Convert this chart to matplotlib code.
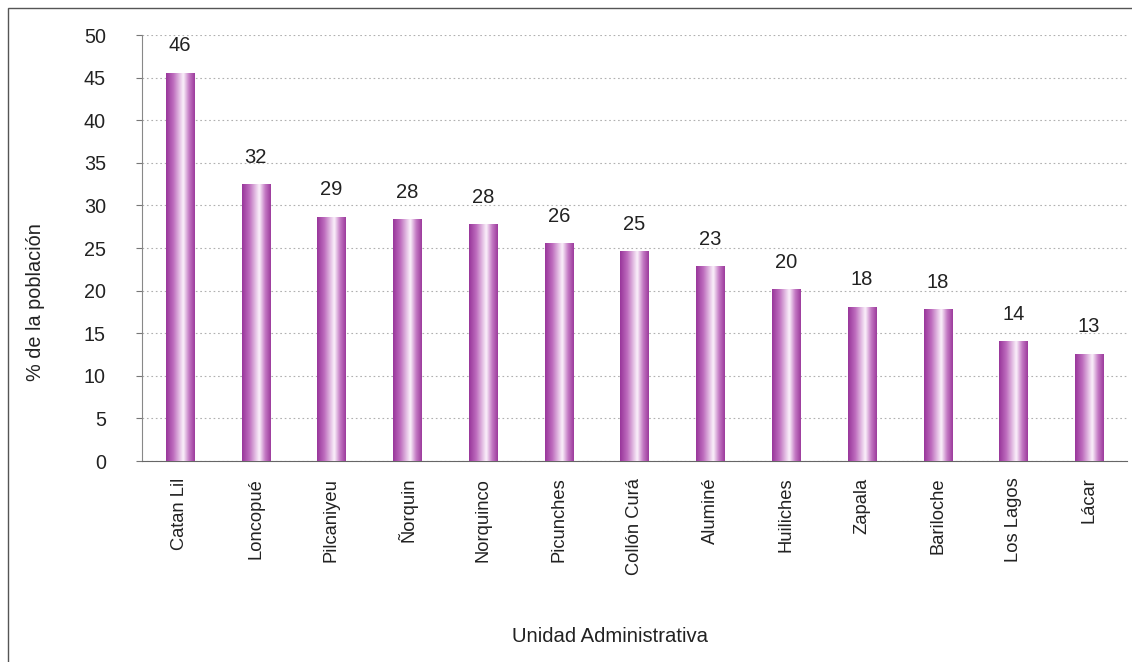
import matplotlib
matplotlib.use("Agg")
import matplotlib.pyplot as plt
import numpy as np
from matplotlib.colors import LinearSegmentedColormap
from matplotlib.patches import Rectangle

categories = ["Catan Lil", "Loncopué", "Pilcaniyeu", "Ñorquin", "Norquinco", "Picunches",
              "Collón Curá", "Aluminé", "Huiliches", "Zapala", "Bariloche", "Los Lagos", "Lácar"]
values = [45.6, 32.5, 28.7, 28.4, 27.8, 25.6, 24.6, 22.9, 20.2, 18.1, 17.8, 14.1, 12.6]
labels = ["46", "32", "29", "28", "28", "26", "25", "23", "20", "18", "18", "14", "13"]
yticks = [0, 5, 10, 15, 20, 25, 30, 35, 40, 45, 50]

plt.rcParams['font.family'] = ['Liberation Sans', 'DejaVu Sans']

fig = plt.figure(figsize=(11.32, 6.62), dpi=100)
ax = fig.add_axes([0.1254, 0.3036, 0.8702, 0.6434])

cmap = LinearSegmentedColormap.from_list(
    "bar", [(0.0, "#98359a"), (0.25, "#bd6bbd"), (0.6, "#fbf2fb"), (0.8, "#c479c4"), (1.0, "#9c3a9c")])
grad = np.linspace(0, 1, 256).reshape(1, -1)

x = np.arange(len(categories))
width = 0.37
bars = ax.bar(x, values, width=width, color="none", edgecolor="none", zorder=3)
for b in bars:
    x0, y0 = b.get_x(), b.get_y()
    w, h = b.get_width(), b.get_height()
    im = ax.imshow(grad, cmap=cmap, aspect="auto", extent=[x0, x0 + w, y0, y0 + h],
                   interpolation="bicubic", zorder=3)
    im.set_clip_path(b)

for xi, v, lab in zip(x, values, labels):
    ax.annotate(lab, (xi, v), xytext=(0, 12.5), textcoords="offset points",
                ha="center", va="bottom", fontsize=14.5, color="#222222")

ax.set_xlim(-0.5, len(categories) - 0.5)
ax.set_ylim(0, 50)
ax.set_yticks(yticks)
ax.set_xticks(x)
ax.set_xticklabels(categories, rotation=90, fontsize=13.2, color="#222222")
ax.tick_params(axis="y", labelsize=14.2, colors="#222222", length=4, color="#777777", pad=22)
ax.tick_params(axis="x", length=0, pad=12)
ax.yaxis.grid(True, linestyle=(0, (1.5, 2.5)), color="#b0b0b0", linewidth=0.8, zorder=0)
ax.set_axisbelow(True)
for s in ["top", "right"]:
    ax.spines[s].set_visible(False)
ax.spines["left"].set_color("#888888")
ax.spines["bottom"].set_color("#666666")

fig.text(0.539, 0.038, "Unidad Administrativa", ha="center", va="center", fontsize=14.6, color="#222222")
fig.text(0.031, 0.543, "% de la población", ha="center", va="center", rotation=90,
         fontsize=14.3, color="#222222")

fig.patches.append(Rectangle((8 / 1132, -0.01), 1.5, 1 - 8 / 662 + 0.01, transform=fig.transFigure,
                             fill=False, edgecolor="#555555", linewidth=1.0))

fig.savefig("out.png", dpi=100)
